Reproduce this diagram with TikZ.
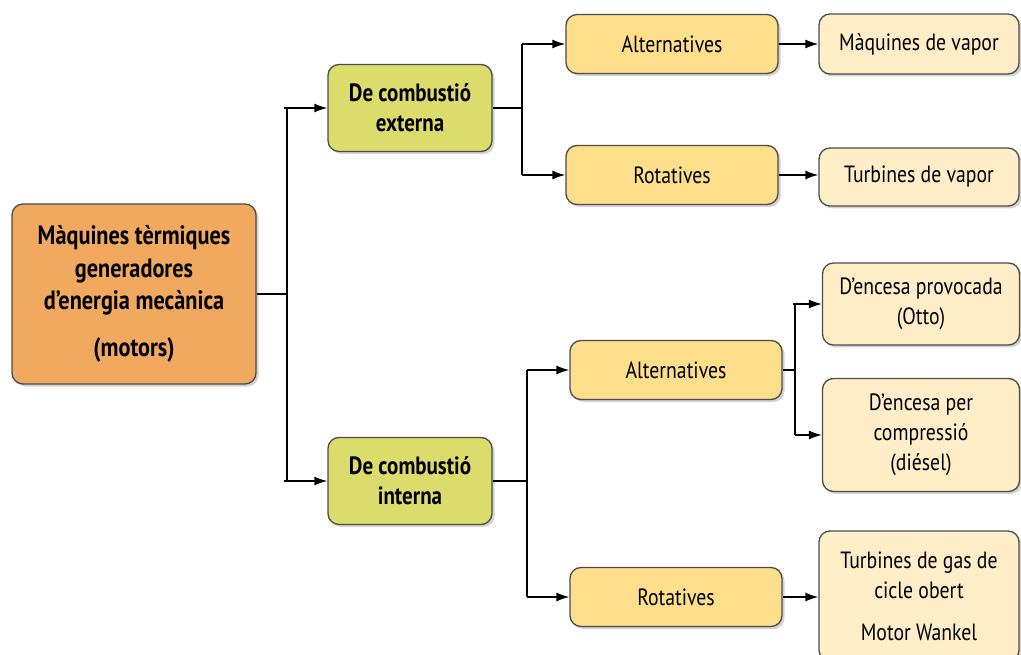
\documentclass[tikz,border=0pt]{standalone}
\usepackage{fontspec}
\setmainfont{PT Sans}[FakeStretch=0.84]
\usetikzlibrary{arrows.meta,shadows}

\definecolor{motorcol}{HTML}{F0A95E}
\definecolor{combcol}{HTML}{DCDC6C}
\definecolor{tipuscol}{HTML}{FDDF8B}
\definecolor{fullacol}{HTML}{FEEDC6}

\begin{document}
\begin{tikzpicture}[x=1pt,y=-1pt,
  caixa/.style={draw=black!70,line width=1.3pt,rounded corners=11pt,align=center,inner sep=0pt,
    font=\fontsize{23.5}{30}\selectfont,
    drop shadow={shadow xshift=2.5pt,shadow yshift=-2.5pt,opacity=.35}},
  motor/.style={caixa,fill=motorcol,minimum width=244pt,minimum height=180pt,font=\fontsize{26.5}{32.5}\selectfont\bfseries},
  comb/.style={caixa,fill=combcol,minimum width=164pt,minimum height=87pt,font=\fontsize{25}{30}\selectfont\bfseries},
  tipus/.style={caixa,fill=tipuscol,minimum width=212pt,minimum height=59pt},
  fulla/.style={caixa,fill=fullacol,minimum width=200pt},
  fletxa/.style={line width=1.4pt,-{Latex[length=13pt,width=9pt]}},
  linia/.style={line width=1.4pt}]
\clip (0,0) rectangle (1021,655);
\useasboundingbox (0,0) rectangle (1021,655);

\node[motor] (motor) at (134,294) {Màquines tèrmiques\\ generadores\\ d'energia mecànica\\[14pt] (motors)};
\node[comb] (ext) at (410,108) {De combustió\\ externa};
\node[comb] (int) at (410,481) {De combustió\\ interna};
\node[tipus] (alt1) at (672,44) {Alternatives};
\node[tipus] (rot1) at (672,175) {Rotatives};
\node[tipus] (alt2) at (676,370) {Alternatives};
\node[tipus] (rot2) at (676,597) {Rotatives};
\node[fulla,minimum height=60pt] (vapor) at (919,44) {Màquines de vapor};
\node[fulla,minimum height=58pt] (turb) at (919,177) {Turbines de vapor};
\node[fulla,minimum width=197pt,minimum height=82pt] (otto) at (921,304) {D'encesa provocada\\ (Otto)};
\node[fulla,minimum width=197pt,minimum height=113pt] (diesel) at (921,435) {D'encesa per\\ compressió\\ (diésel)};
\node[fulla,minimum height=130pt] (gas) at (919,596) {Turbines de gas de\\ cicle obert\\[12pt] Motor Wankel};

\coordinate (t0) at (287,294);
\coordinate (t1) at (522,108);
\coordinate (t2) at (527,481);
\coordinate (t3) at (795,370);

\draw[line width=2.6pt] (motor.east) -- (t0);
\draw[linia] (t0 |- ext.west) -- (t0 |- int.west);
\draw[fletxa] ([xshift=-3pt]t0 |- ext.west) -- (ext.west);
\draw[fletxa] ([xshift=-3pt]t0 |- int.west) -- (int.west);

\draw[linia] (ext.east) -- (t1);
\draw[linia] (t1 |- alt1.west) -- (t1 |- rot1.west);
\draw[fletxa] (t1 |- alt1.west) -- (alt1.west);
\draw[fletxa] (t1 |- rot1.west) -- (rot1.west);

\draw[linia] (int.east) -- (t2);
\draw[linia] (t2 |- alt2.west) -- (t2 |- rot2.west);
\draw[fletxa] (t2 |- alt2.west) -- (alt2.west);
\draw[fletxa] (t2 |- rot2.west) -- (rot2.west);

\draw[linia] (alt2.east) -- (t3);
\draw[linia] (t3 |- otto.west) -- (t3 |- diesel.west);
\draw[fletxa] ([xshift=-2pt]t3 |- otto.west) -- (otto.west);
\draw[fletxa] (t3 |- diesel.west) -- (diesel.west);

\draw[fletxa] (alt1.east) -- (alt1.east -| vapor.west);
\draw[fletxa] (rot1.east) -- (rot1.east -| turb.west);
\draw[fletxa] (rot2.east) -- (rot2.east -| gas.west);
\end{tikzpicture}
\end{document}
